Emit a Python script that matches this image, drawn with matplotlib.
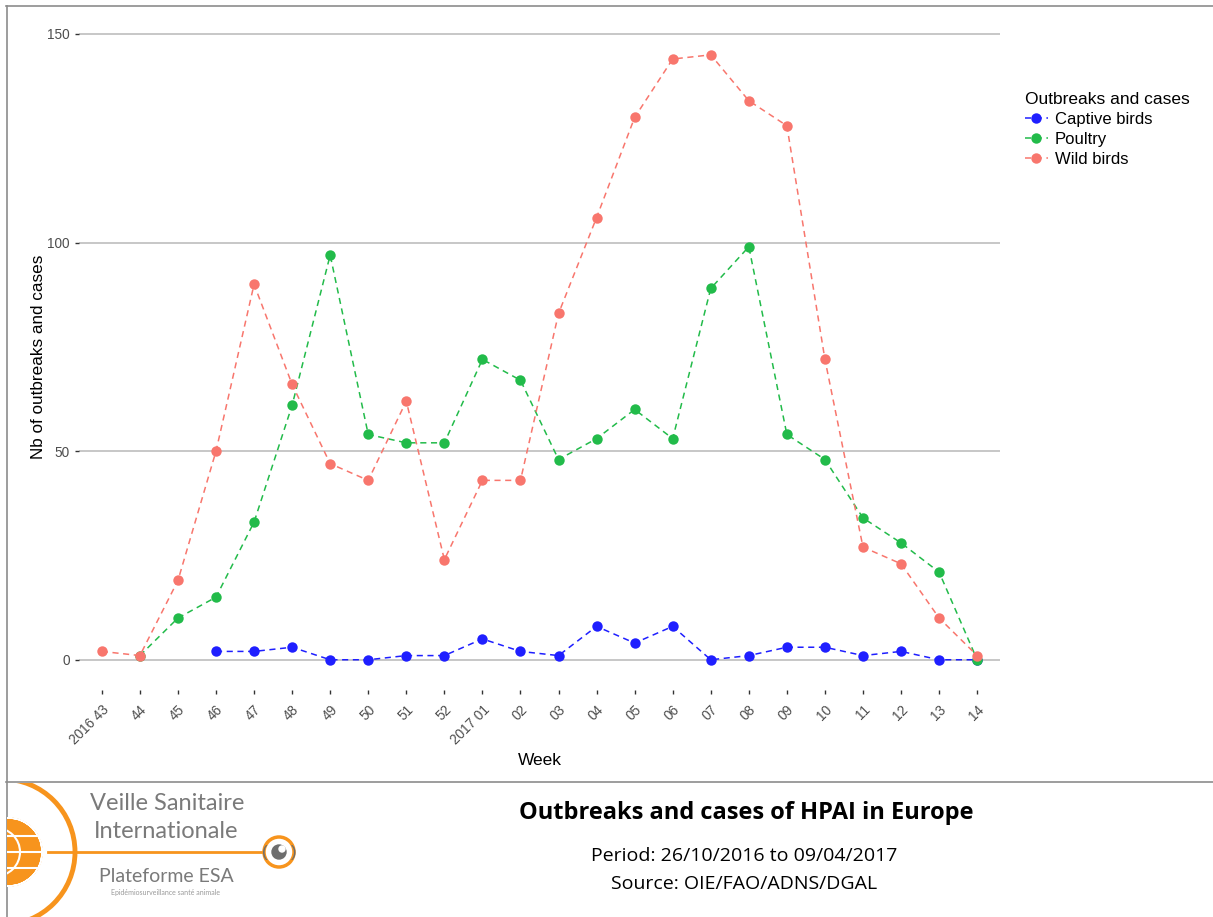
import numpy as np
import matplotlib
matplotlib.use("Agg")
import matplotlib.pyplot as plt
from matplotlib.patches import Circle, Wedge

# weeks (2016 w43 -> 2017 w14)
weeks = ["2016 43", "44", "45", "46", "47", "48", "49", "50", "51", "52",
         "2017 01", "02", "03", "04", "05", "06", "07", "08", "09", "10",
         "11", "12", "13", "14"]

nan = np.nan
captive = [nan, nan, nan, 2, 2, 3, 0, 0, 1, 1,
           5, 2, 1, 8, 4, 8, 0, 1, 3, 3,
           1, 2, 0, 0]
poultry = [nan, 1, 10, 15, 33, 61, 97, 54, 52, 52,
           72, 67, 48, 53, 60, 53, 89, 99, 54, 48,
           34, 28, 21, 0]
wild = [2, 1, 19, 50, 90, 66, 47, 43, 62, 24,
        43, 43, 83, 106, 130, 144, 145, 134, 128, 72,
        27, 23, 10, 1]

series = [("Captive birds", captive, "#1f1fff"),
          ("Poultry", poultry, "#22bb4a"),
          ("Wild birds", wild, "#f8766d")]

plt.rcParams['font.family'] = ['Liberation Sans', 'DejaVu Sans']

W, H = 1213, 917
fig = plt.figure(figsize=(W / 100, H / 100), dpi=100)

# main plot area (pixel bounds converted to figure fractions)
ax = fig.add_axes([79 / W, 1 - 690 / H, (1000 - 79) / W, (690 - 24.6) / H])
x = np.arange(len(weeks))
handles = []
for name, vals, col in series:
    ln, = ax.plot(x, vals, linestyle=(0, (4, 3)), lw=1.1, color=col,
                  marker="o", markersize=7.5, markeredgewidth=0, label=name)
    handles.append(ln)

ax.set_xlim(-0.6, len(weeks) - 0.4)
ax.set_ylim(-7.25, 152.25)
ax.set_yticks([0, 50, 100, 150])
ax.set_xticks(x)
ax.set_xticklabels(weeks, rotation=45, ha="right", rotation_mode="anchor")
ax.yaxis.grid(True, color="#bdbdbd", lw=1.2)
ax.set_axisbelow(True)
for s in ax.spines.values():
    s.set_visible(False)
ax.tick_params(axis="both", colors="#333333", labelcolor="#4d4d4d",
               labelsize=9.8, length=3, width=1)
ax.tick_params(axis="x", pad=6)
ax.set_xlabel("Week", fontsize=12.5, labelpad=4)
ax.set_ylabel("Nb of outbreaks and cases", fontsize=12.3, labelpad=1)

leg = fig.legend(handles=handles, title="Outbreaks and cases",
                 loc="upper left", bbox_to_anchor=(1018 / W, 1 - 85 / H),
                 frameon=False, fontsize=12, title_fontsize=12.5,
                 handlelength=1.4, handletextpad=0.4, labelspacing=0.3,
                 borderaxespad=0)
leg._legend_box.align = "left"

# overlay in pixel coordinates for frame and footer
ov = fig.add_axes([0, 0, 1, 1], zorder=-1)
ov.set_xlim(0, W)
ov.set_ylim(H, 0)
ov.axis("off")
ov.plot([6, W], [6, 6], color="#8c8c8c", lw=1.2)
ov.plot([6.5, 6.5], [6, H], color="#8c8c8c", lw=1.2)
ov.plot([6, W], [782, 782], color="#8c8c8c", lw=1.2)

# footer text
ov.text(746, 813, "Outbreaks and cases of HPAI in Europe", ha="center",
        va="center", fontsize=17, fontweight="bold", family="Open Sans")
ov.text(744, 856, "Period: 26/10/2016 to 09/04/2017", ha="center",
        va="center", fontsize=14, family="Open Sans")
ov.text(744, 884, "Source: OIE/FAO/ADNS/DGAL", ha="center",
        va="center", fontsize=14, family="Open Sans")

# logo (approximation)
orange = "#f7941d"
lg = fig.add_axes([7 / W, 0, 320 / W, (H - 783) / H], zorder=2)
lg.set_xlim(7, 327)
lg.set_ylim(H, 783)
lg.set_aspect("equal")
lg.axis("off")
lg.add_patch(Circle((2, 852), 73, fill=False, ec=orange, lw=3.5))
lg.add_patch(Circle((8, 852), 34, color=orange))
for yy in [836, 852, 868]:
    lg.plot([-30, 44], [yy, yy], color="white", lw=1.5)
lg.add_patch(Wedge((8, 852), 34, 0, 360, width=0, fill=False, ec="white", lw=1))
lg.add_patch(Circle((-4, 852), 24, fill=False, ec="white", lw=1.5))
lg.plot([48, 262], [852, 852], color=orange, lw=2)
lg.add_patch(Circle((279, 852), 15, fill=False, ec=orange, lw=2.5))
lg.add_patch(Circle((279, 852), 7, color="#6d6d6d"))
lg.add_patch(Circle((282, 849), 3, color="white"))
lg.text(265, 852, "(", ha="center", va="center", color="#6d6d6d", fontsize=12)
lg.text(294, 852, ")", ha="center", va="center", color="#6d6d6d", fontsize=12)
lg.text(167, 803, "Veille Sanitaire", ha="center", va="center",
        color="#7a7a7a", fontsize=17, family="Lato")
lg.text(166, 832, "Internationale", ha="center", va="center",
        color="#7a7a7a", fontsize=17, family="Lato")
lg.text(166, 877, "Plateforme ESA", ha="center", va="center",
        color="#7a7a7a", fontsize=14, family="Lato")
lg.text(166, 892, "Epidémiosurveillance santé animale", ha="center",
        va="center", color="#9a9a9a", fontsize=5, family="Lato")

fig.savefig("out.png", dpi=100)
